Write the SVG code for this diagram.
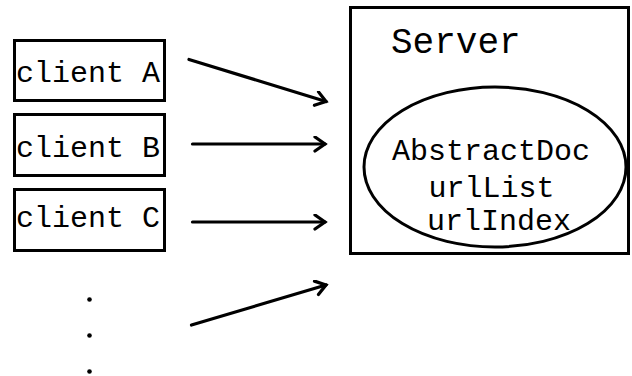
<svg xmlns="http://www.w3.org/2000/svg" width="632" height="376" viewBox="0 0 632 376">
  <defs>
    <style>
      .box { fill: #fff; stroke: #000; stroke-width: 3; }
      .label { font-family: "Liberation Mono", "Courier New", monospace; font-size: 30px; fill: #000; }
      .title { font-family: "Liberation Mono", "Courier New", monospace; font-size: 36px; fill: #000; }
      .link { fill: none; stroke: #000; stroke-width: 3.2; stroke-linecap: round; }
      .dot { fill: #000; }
    </style>
    <marker id="chevron" markerUnits="userSpaceOnUse" markerWidth="16" markerHeight="18" refX="12" refY="8" orient="auto">
      <path d="M2,1 L12,8 L2,15" fill="none" stroke="#000" stroke-width="3.2" stroke-linecap="round" stroke-linejoin="miter"/>
    </marker>
  </defs>
  <rect width="632" height="376" fill="#fff"/>

  <!-- server with its document store -->
  <g id="server">
    <rect class="box" x="350.5" y="7.5" width="278" height="246"/>
    <text class="title" x="391" y="53">Server</text>
  </g>
  <g id="abstract-doc">
    <ellipse cx="495" cy="167" rx="131" ry="80" fill="none" stroke="#000" stroke-width="3"/>
    <text class="label" x="491" y="160" text-anchor="middle">AbstractDoc</text>
    <text class="label" x="491.5" y="197" text-anchor="middle">urlList</text>
    <text class="label" x="499" y="230" text-anchor="middle">urlIndex</text>
  </g>

  <!-- clients -->
  <g id="client-a">
    <rect class="box" x="14.5" y="40.5" width="150" height="60"/>
    <text class="label" x="16" y="82">client A</text>
  </g>
  <g id="client-b">
    <rect class="box" x="14.5" y="114.5" width="150" height="61"/>
    <text class="label" x="16" y="157">client B</text>
  </g>
  <g id="client-c">
    <rect class="box" x="14.5" y="189.5" width="150" height="61"/>
    <text class="label" x="16" y="227">client C</text>
  </g>
  <!-- vertical ellipsis for further clients -->
  <g id="more-clients">
    <circle class="dot" cx="89.5" cy="299.5" r="2.3"/>
    <circle class="dot" cx="89.5" cy="335.5" r="2.3"/>
    <circle class="dot" cx="89.5" cy="371.5" r="2.3"/>
  </g>

  <!-- requests to the server -->
  <g id="connectors">
    <line class="link" x1="189" y1="59.5" x2="326" y2="101.5" marker-end="url(#chevron)"/>
    <line class="link" x1="192.5" y1="144" x2="325" y2="144" marker-end="url(#chevron)"/>
    <line class="link" x1="192.5" y1="222" x2="325" y2="222" marker-end="url(#chevron)"/>
    <line class="link" x1="191.5" y1="325" x2="326" y2="285" marker-end="url(#chevron)"/>
  </g>
</svg>
